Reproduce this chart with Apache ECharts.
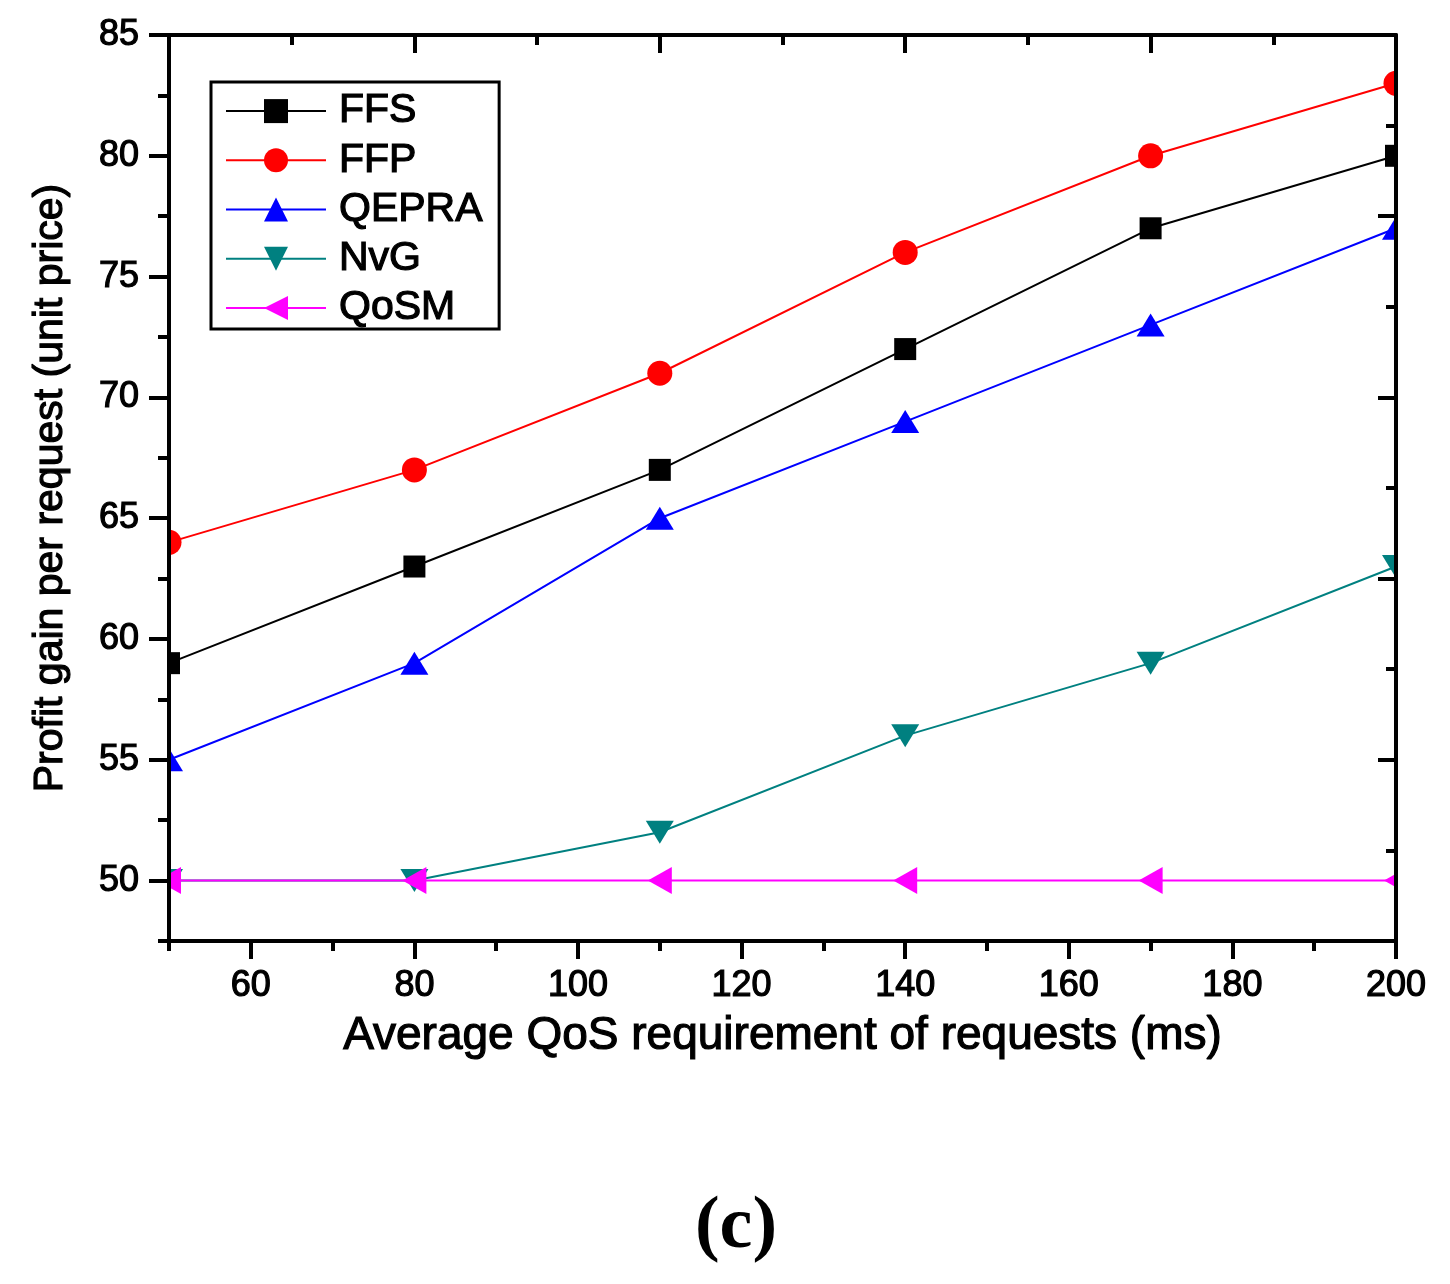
<!DOCTYPE html>
<html>
<head>
<meta charset="utf-8">
<title>Profit gain per request</title>
<script src="https://cdn.jsdelivr.net/npm/echarts@6/dist/echarts.min.js"></script>
<style>
  html, body { margin: 0; padding: 0; background: #fff; }
  #chart { width: 1450px; height: 1284px; }
</style>
</head>
<body>
<div id="chart"></div>
<script>
// values
var qosReq = [50, 80, 110, 140, 170, 200];
var ffs = [59, 63, 67, 72, 77, 80];
var ffp = [64, 67, 71, 76, 80, 83];
var qepra = [55, 59, 65, 69, 73, 77];
var nvg = [50, 50, 52, 56, 59, 63];
var qosm = [50, 50, 50, 50, 50, 50];

var seriesNames = ['FFS', 'FFP', 'QEPRA', 'NvG', 'QoSM'];
var seriesColors = ['#000000', '#ff0000', '#0000ff', '#008080', '#ff00ff'];

// tick marks (bottom / left are the labelled axes)
var xMajorTicks = [60, 80, 100, 120, 140, 160, 180, 200];
var xMinorTicks = [50, 70, 90, 110, 130, 150, 170, 190];
var yMajorTicks = [50, 55, 60, 65, 70, 75, 80, 85];
var yMinorTicks = [47.5, 52.5, 57.5, 62.5, 67.5, 72.5, 77.5, 82.5];

var FONT = '"Liberation Sans", Arial, sans-serif';

window.onload = function () {
    var chart = echarts.init(document.getElementById('chart'));

    function pairs(ys) {
        return ys.map(function (y, i) {
            return [qosReq[i], y];
        });
    }

    // text in the figure is a bit heavier than plain Arial
    function txt(size) {
        return {
            color: '#000',
            fontSize: size,
            fontFamily: FONT,
            textBorderColor: '#000',
            textBorderWidth: 1.2
        };
    }

    var lineAxis = { show: true, lineStyle: { color: '#000', width: 4 } };
    var tickStyle = { color: '#000', width: 4 };

    function makeSeries(name, data, symbol, size, rotate) {
        var idx = seriesNames.indexOf(name);
        return {
            name: name,
            type: 'line',
            z: 1,
            data: pairs(data),
            xAxisIndex: 0,
            yAxisIndex: 0,
            symbol: symbol,
            symbolSize: size,
            symbolRotate: rotate || 0,
            showAllSymbol: true,
            clip: false,
            color: seriesColors[idx],
            lineStyle: { color: seriesColors[idx], width: 2 },
            itemStyle: { color: seriesColors[idx] },
            emphasis: { disabled: true }
        };
    }

    var bottomLabel = txt(36);
    bottomLabel.customValues = xMajorTicks;
    bottomLabel.margin = 27;

    var leftLabel = txt(36);
    leftLabel.customValues = yMajorTicks;
    leftLabel.margin = 30;

    var legendText = txt(41);
    legendText.lineHeight = 41;
    legendText.padding = [0, 0, 0, 8];

    var option = {
        animation: false,
        backgroundColor: '#fff',
        grid: { left: 169, right: 54, top: 35, bottom: 343, containLabel: false },
        legend: {
            orient: 'vertical',
            left: 211,
            top: 82,
            data: seriesNames,
            itemWidth: 100,
            itemHeight: 30,
            itemGap: 7,
            padding: [8, 16, 0, 14],
            borderColor: '#000',
            borderWidth: 3,
            selectedMode: false,
            textStyle: legendText
        },
        xAxis: [
            {
                type: 'value',
                position: 'bottom',
                z: 3,
                min: 50,
                max: 200,
                interval: 10,
                axisLine: lineAxis,
                axisTick: { show: true, customValues: xMajorTicks, length: 18, lineStyle: tickStyle },
                axisLabel: bottomLabel,
                splitLine: { show: false },
                name: 'Average QoS requirement of requests (ms)',
                nameLocation: 'middle',
                nameGap: 72,
                nameTextStyle: txt(46)
            },
            {
                type: 'value',
                position: 'bottom',
                z: 3,
                min: 50,
                max: 200,
                interval: 10,
                axisLine: { show: false },
                axisTick: { show: true, customValues: xMinorTicks, length: 10, lineStyle: tickStyle },
                axisLabel: { show: false },
                splitLine: { show: false }
            },
            {
                type: 'value',
                position: 'top',
                z: 3,
                min: 50,
                max: 200,
                interval: 30,
                axisLine: lineAxis,
                axisTick: { show: true, inside: true, length: 18, lineStyle: tickStyle },
                minorTick: { show: true, splitNumber: 2, length: 10, lineStyle: tickStyle },
                axisLabel: { show: false },
                splitLine: { show: false },
                minorSplitLine: { show: false }
            }
        ],
        yAxis: [
            {
                type: 'value',
                position: 'left',
                z: 3,
                min: 47.5,
                max: 85,
                interval: 2.5,
                axisLine: lineAxis,
                axisTick: { show: true, customValues: yMajorTicks, length: 20, lineStyle: tickStyle },
                axisLabel: leftLabel,
                splitLine: { show: false },
                name: 'Profit gain per request (unit price)',
                nameLocation: 'middle',
                nameGap: 98,
                nameTextStyle: txt(41)
            },
            {
                type: 'value',
                position: 'left',
                z: 3,
                min: 47.5,
                max: 85,
                interval: 2.5,
                axisLine: { show: false },
                axisTick: { show: true, customValues: yMinorTicks, length: 11, lineStyle: tickStyle },
                axisLabel: { show: false },
                splitLine: { show: false }
            },
            {
                type: 'value',
                position: 'right',
                z: 3,
                min: 47.5,
                max: 85,
                interval: 7.5,
                axisLine: lineAxis,
                axisTick: { show: true, inside: true, length: 18, lineStyle: tickStyle },
                minorTick: { show: true, splitNumber: 2, length: 10, lineStyle: tickStyle },
                axisLabel: { show: false },
                splitLine: { show: false },
                minorSplitLine: { show: false }
            }
        ],
        series: [
            makeSeries('FFS', ffs, 'rect', 22),
            makeSeries('FFP', ffp, 'circle', 25),
            makeSeries('QEPRA', qepra, 'triangle', [28, 23]),
            makeSeries('NvG', nvg, 'triangle', [28, 23], 180),
            makeSeries('QoSM', qosm, 'triangle', [27, 24], 90)
        ],
        graphic: [
            // markers on the frame are cut by the plot edge in the original
            { type: 'rect', z: 2, silent: true, shape: { x: 0, y: 0, width: 169, height: 1000 }, style: { fill: '#fff' } },
            { type: 'rect', z: 2, silent: true, shape: { x: 1396, y: 0, width: 54, height: 1000 }, style: { fill: '#fff' } },
            {
                type: 'text',
                z: 3,
                x: 736,
                y: 1228,
                style: {
                    text: '(c)',
                    fill: '#000',
                    font: 'bold 74px "Liberation Serif", "Times New Roman", serif',
                    textAlign: 'center',
                    textVerticalAlign: 'middle',
                    align: 'center',
                    verticalAlign: 'middle'
                }
            }
        ]
    };

    chart.setOption(option);
};
</script>
</body>
</html>
